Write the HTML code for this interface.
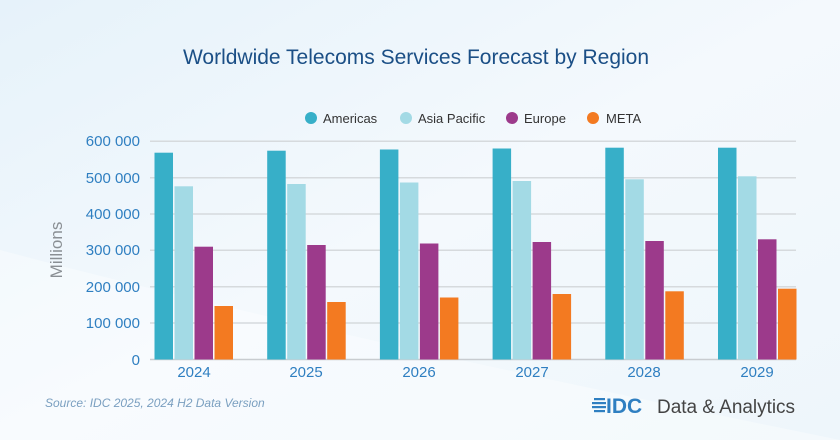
<!DOCTYPE html>
<html><head><meta charset="utf-8"><style>
body{margin:0;width:840px;height:440px;overflow:hidden;font-family:"Liberation Sans",sans-serif}
</style></head><body>
<svg width="840" height="440" xmlns="http://www.w3.org/2000/svg">
<defs>
<linearGradient id="bg" x1="0" y1="0" x2="1" y2="1">
<stop offset="0" stop-color="#e6f2fa"/><stop offset="0.5" stop-color="#f4f9fd"/><stop offset="1" stop-color="#eef6fb"/>
</linearGradient>
</defs>
<rect width="840" height="440" fill="url(#bg)"/>
<path d="M0 250 Q300 330 840 440 L0 440Z" fill="#ffffff" opacity="0.35"/>
<text x="416" y="64" text-anchor="middle" font-size="21" fill="#1b4f86">Worldwide Telecoms Services Forecast by Region</text>
<g font-size="13" fill="#333">
<circle cx="311" cy="118" r="6" fill="#37afc8"/><text x="323" y="123">Americas</text>
<circle cx="406" cy="118" r="6" fill="#a3dae5"/><text x="418" y="123">Asia Pacific</text>
<circle cx="512" cy="118" r="6" fill="#9c3a8b"/><text x="524" y="123">Europe</text>
<circle cx="593" cy="118" r="6" fill="#f37a21"/><text x="606" y="123">META</text>
</g>
<g stroke="#d6dadd" stroke-width="1.5">
<line x1="150" x2="796" y1="141.3" y2="141.3"/><line x1="150" x2="796" y1="177.7" y2="177.7"/>
<line x1="150" x2="796" y1="214" y2="214"/><line x1="150" x2="796" y1="250.3" y2="250.3"/>
<line x1="150" x2="796" y1="286.7" y2="286.7"/><line x1="150" x2="796" y1="323" y2="323"/>
<line x1="150" x2="796" y1="359.5" y2="359.5" stroke="#c8ccd0"/>
</g>
<g font-size="15" fill="#2f7fc1" text-anchor="end">
<text x="140" y="146">600 000</text><text x="140" y="183">500 000</text><text x="140" y="219">400 000</text>
<text x="140" y="255">300 000</text><text x="140" y="292">200 000</text><text x="140" y="328">100 000</text><text x="140" y="365">0</text>
</g>
<text transform="translate(62,250) rotate(-90)" text-anchor="middle" font-size="17" fill="#8a8f94">Millions</text>
<g>
<rect x="154.5" y="152.7" width="18.5" height="206.8" fill="#37afc8"/>
<rect x="174.5" y="186.3" width="18.5" height="173.2" fill="#a3dae5"/>
<rect x="194.5" y="246.7" width="18.5" height="112.8" fill="#9c3a8b"/>
<rect x="214.5" y="306" width="18.5" height="53.5" fill="#f37a21"/>
<rect x="267.2" y="150.7" width="18.5" height="208.8" fill="#37afc8"/>
<rect x="287.2" y="184" width="18.5" height="175.5" fill="#a3dae5"/>
<rect x="307.2" y="245" width="18.5" height="114.5" fill="#9c3a8b"/>
<rect x="327.2" y="302" width="18.5" height="57.5" fill="#f37a21"/>
<rect x="379.9" y="149.5" width="18.5" height="210" fill="#37afc8"/>
<rect x="399.9" y="182.5" width="18.5" height="177" fill="#a3dae5"/>
<rect x="419.9" y="243.5" width="18.5" height="116" fill="#9c3a8b"/>
<rect x="439.9" y="297.5" width="18.5" height="62" fill="#f37a21"/>
<rect x="492.6" y="148.5" width="18.5" height="211" fill="#37afc8"/>
<rect x="512.6" y="181" width="18.5" height="178.5" fill="#a3dae5"/>
<rect x="532.6" y="242" width="18.5" height="117.5" fill="#9c3a8b"/>
<rect x="552.6" y="294" width="18.5" height="65.5" fill="#f37a21"/>
<rect x="605.3" y="147.7" width="18.5" height="211.8" fill="#37afc8"/>
<rect x="625.3" y="179.3" width="18.5" height="180.2" fill="#a3dae5"/>
<rect x="645.3" y="241" width="18.5" height="118.5" fill="#9c3a8b"/>
<rect x="665.3" y="291.3" width="18.5" height="68.2" fill="#f37a21"/>
<rect x="718" y="147.7" width="18.5" height="211.8" fill="#37afc8"/>
<rect x="738" y="176.3" width="18.5" height="183.2" fill="#a3dae5"/>
<rect x="758" y="239.3" width="18.5" height="120.2" fill="#9c3a8b"/>
<rect x="778" y="288.7" width="18.5" height="70.8" fill="#f37a21"/>
</g>
<g font-size="15" fill="#2f7fc1" text-anchor="middle">
<text x="194" y="377">2024</text><text x="306" y="377">2025</text><text x="419" y="377">2026</text>
<text x="532" y="377">2027</text><text x="644" y="377">2028</text><text x="757" y="377">2029</text>
</g>
<text x="45" y="407" font-size="12" font-style="italic" fill="#7a9fc0">Source: IDC 2025, 2024 H2 Data Version</text>
<g fill="#2f7fc1">
<rect x="594" y="398" width="11" height="2.2"/><rect x="592" y="402" width="14" height="2.2"/><rect x="592" y="406" width="14" height="2.2"/><rect x="594" y="410" width="11" height="2.2"/>
</g>
<text x="606" y="413" font-size="21" font-weight="bold" fill="#2f7fc1">IDC</text>
<text x="657" y="413" font-size="19" fill="#444" textLength="138">Data &amp; Analytics</text>
</svg>
</body></html>
